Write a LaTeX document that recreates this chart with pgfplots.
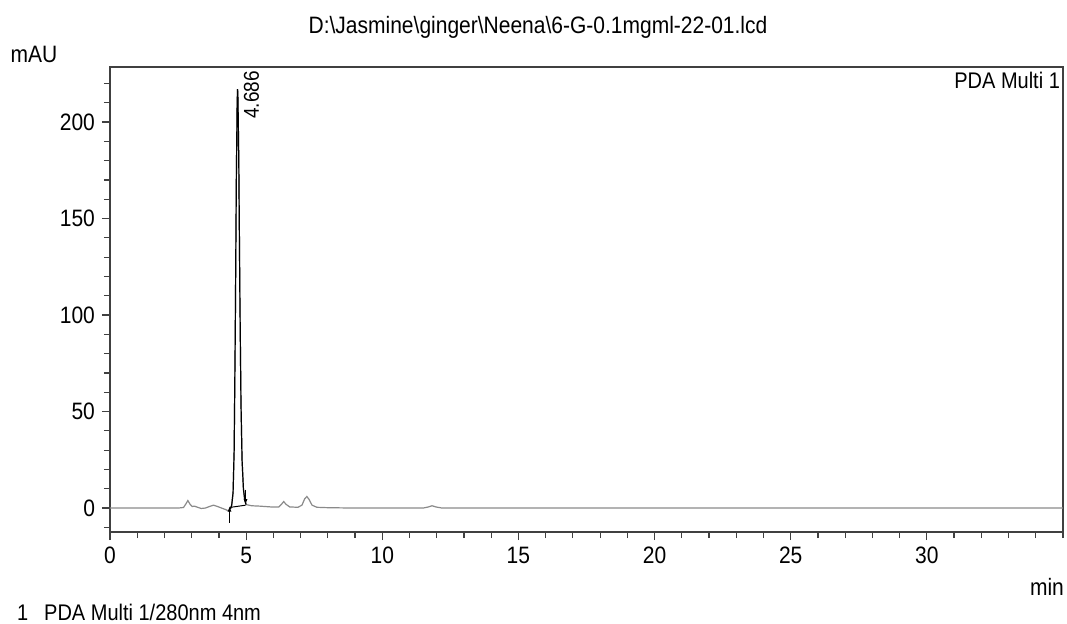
\documentclass[border=0pt]{standalone}
\usepackage{graphicx}
\usepackage{pgfplots}
\pgfplotsset{compat=1.18}
\usetikzlibrary{arrows.meta}
\usepackage{fontspec}
\setmainfont{Liberation Sans}
\definecolor{axgray}{HTML}{404040}
\definecolor{trace}{HTML}{8A8A8A}
\newcommand{\tall}[1]{\scalebox{1}[1.13]{#1}}
\begin{document}
\begin{tikzpicture}[font=\fontsize{10.5}{12}\selectfont]
\path[use as bounding box] (-55pt,-45.5pt) rectangle (478.5pt,266pt);
\begin{axis}[
  at={(0,0)}, anchor=south west,
  scale only axis,
  width=476.5pt, height=232.5pt,
  xmin=0, xmax=35,
  ymin=-12.4, ymax=228.5,
  xtick={0,5,...,30},
  minor xtick={0,1,...,35},
  ytick={0,50,...,200},
  minor ytick={-10,0,...,220},
  xtick pos=bottom, ytick pos=left,
  tick align=outside,
  major tick length=4pt,
  minor tick length=3pt,
  axis line style={axgray, line width=0.6pt},
  every tick/.style={axgray, line width=0.6pt},
  xticklabel={\tall{\pgfmathprintnumber[assume math mode=true]{\tick}}},
  yticklabel={\tall{\pgfmathprintnumber[assume math mode=true]{\tick}}},
  clip=false,
]
% baseline / trace (grey)
\addplot[trace, line width=0.6pt] coordinates {
(0,0) (2.5,0) (2.7,0.3) (2.78,2.0) (2.86,3.9) (2.94,2.0) (3.02,0.8) (3.1,1.0)
(3.2,0.5) (3.35,-0.2) (3.5,0) (3.65,0.8) (3.8,1.5) (3.95,0.8) (4.1,0)
(4.25,-0.8) (4.35,-1.5) (4.42,-0.5) (4.47,1.5) (4.52,8) (4.56,30) (4.60,90)
(4.64,170) (4.67,210) (4.686,217) (4.70,212) (4.73,180) (4.77,110) (4.81,55)
(4.85,25) (4.90,10) (4.95,4) (5.0,1.8) (5.2,1.2) (5.5,1.0) (5.9,0.6)
(6.2,0.6) (6.3,2.0) (6.38,3.4) (6.46,2.0) (6.6,0.6) (6.9,0.4) (7.05,1.5)
(7.15,4.8) (7.23,6.0) (7.31,4.5) (7.42,1.5) (7.6,0.4) (8,0.2) (9,0)
(11.5,0) (11.7,0.6) (11.83,1.2) (11.96,0.6) (12.2,0) (35,0)};
% integrated peak (black)
\addplot[black, line width=0.6pt] coordinates {
(4.42,-0.5) (4.47,1.5) (4.52,8) (4.56,30) (4.60,90)
(4.64,170) (4.67,210) (4.686,217) (4.70,212) (4.73,180) (4.77,110) (4.81,55)
(4.85,25) (4.90,10) (4.95,4) (5.0,1.8)};
\addplot[black, line width=0.5pt] coordinates {(4.39,0.3) (4.98,1.5)};
% peak start / end markers
\addplot[black, line width=0.5pt, -{Latex[length=2.5pt,width=2pt]}] coordinates {(4.39,-7.5) (4.39,0.8)};
\addplot[black, line width=0.5pt, -{Latex[length=2.5pt,width=2pt]}] coordinates {(4.98,9.5) (4.98,2)};
\node[rotate=90, font=\fontsize{9.5}{11}\selectfont] at (axis cs:5.2,214) {\tall{4.686}};
\end{axis}
\node at (214pt,252.5pt) {\tall{D:\textbackslash Jasmine\textbackslash ginger\textbackslash Neena\textbackslash 6-G-0.1mgml-22-01.lcd}};
\node at (-38pt,239pt) {\tall{mAU}};
\node[anchor=east, font=\fontsize{10}{12}\selectfont] at (478.5pt,226pt) {\tall{PDA Multi 1}};
\node at (468.5pt,-27.5pt) {\tall{min}};
\node[anchor=west, font=\fontsize{10}{12}\selectfont] at (-50pt,-40pt) {\tall{1\hspace{0.8em}PDA Multi 1/280nm 4nm}};
\end{tikzpicture}
\end{document}
